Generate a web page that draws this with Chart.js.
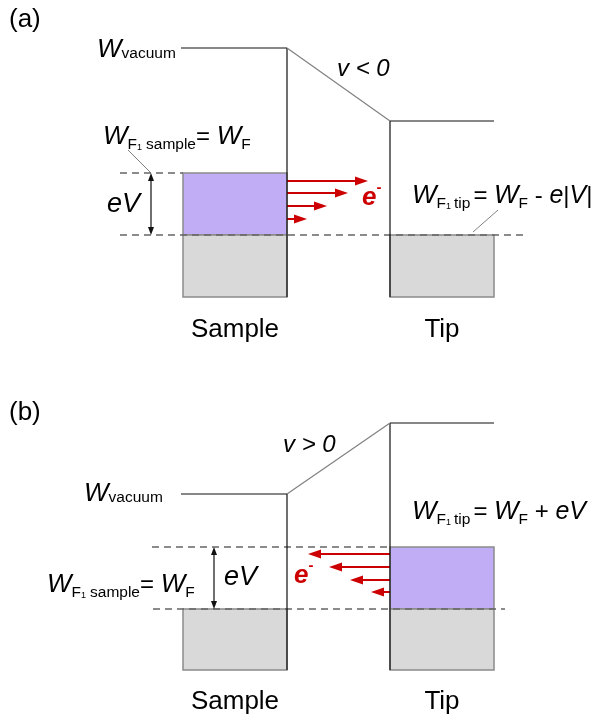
<!DOCTYPE html>
<html><head><meta charset="utf-8">
<script src="https://cdn.jsdelivr.net/npm/chart.js@4.4.0/dist/chart.umd.min.js"></script>
<style>html,body{margin:0;padding:0;background:#fff}#wrap{width:597px;height:715px}</style>
</head><body><div id="wrap"><canvas id="c" width="597" height="715"></canvas></div>
<script>
// ---------- data (drawing units: x = position, y = energy row, downward) ----------
const sampleX = [183, 287];            // sample electrode left / surface
const tipX = [390, 494];               // tip surface / right
// panel (a): V < 0
const vacA = [48, 121];                // vacuum level: sample, tip
const fermiA = [173, 235];             // Fermi level: sample, tip
const bottomA = 297;
const arrowYA = [181, 193, 206, 219];  // tunnelling electrons sample -> tip
const arrowEndA = [368, 348, 327, 307];
const dashA = [[120, 183, 173], [120, 525, 235]];  // xStart, xEnd, level
const eVA = [151, 173, 235];
const leaderA = [[128, 150, 151, 173], [498, 210, 473, 232]];
// panel (b): V > 0
const vacB = [494, 423];
const fermiB = [609, 547];
const bottomB = 670;
const arrowYB = [554, 567, 580, 592];  // tunnelling electrons tip -> sample
const arrowEndB = [308, 329, 350, 371];
const dashB = [[152, 390, 547], [153, 505, 609]];
const eVB = [214, 547, 609];

// ---------- build datasets ----------
const BLACK = '#111', GREY = '#808080', DASH = '#666', RED = '#cc0000';
const PURPLE = '#c0adf5', FILLG = '#d9d9d9';
const ds = [];
function seg(pts, color, width, dash) {
  ds.push({data: pts.map(p => ({x: p[0], y: p[1]})), showLine: true, pointRadius: 0,
    borderColor: color, borderWidth: width, borderDash: dash || [], fill: false, tension: 0});
}
function panel(vac, fermi, bottom, dashes, eV, arrowsY, arrowsEnd, dir) {
  seg([[sampleX[0] - 2, vac[0]], [sampleX[1], vac[0]]], BLACK, 1.2);
  seg([[sampleX[1], vac[0]], [tipX[0], vac[1]]], GREY, 1.2);
  seg([[tipX[0], vac[1]], [tipX[1], vac[1]]], BLACK, 1.2);
  seg([[sampleX[1], vac[0]], [sampleX[1], bottom]], BLACK, 1.2);
  seg([[tipX[0], vac[1]], [tipX[0], bottom]], BLACK, 1.2);
  dashes.forEach(d => seg([[d[0], d[2]], [d[1], d[2]]], DASH, 1.5, [7, 5]));
  seg([[eV[0], eV[1] + 3], [eV[0], eV[2] - 3]], BLACK, 1.2);
  arrowsY.forEach((y, i) => {
    const start = dir > 0 ? sampleX[1] : tipX[0];
    seg([[start, y], [arrowsEnd[i] - dir * 8, y]], RED, 2);
  });
}
panel(vacA, fermiA, bottomA, dashA, eVA, arrowYA, arrowEndA, 1);
panel(vacB, fermiB, bottomB, dashB, eVB, arrowYB, arrowEndB, -1);
leaderA.forEach(l => seg([[l[0], l[1]], [l[2], l[3]]], GREY, 1));

// ---------- plugin: boxes, arrowheads, text ----------
const F = '"Liberation Sans", Arial, sans-serif';
function head(ctx, x, y, dx, dy, len, half, color) {
  const px = -dy, py = dx;
  ctx.fillStyle = color;
  ctx.beginPath();
  ctx.moveTo(x, y);
  ctx.lineTo(x - dx * len + px * half, y - dy * len + py * half);
  ctx.lineTo(x - dx * len - px * half, y - dy * len - py * half);
  ctx.closePath(); ctx.fill();
}
function runs(ctx, x, y, list) {
  for (const r of list) {
    ctx.font = r[1]; ctx.fillStyle = r[3] || '#000';
    ctx.fillText(r[0], x, y + (r[2] || 0));
    x += ctx.measureText(r[0]).width + (r[4] || 0);
  }
}
const deco = {
  id: 'deco',
  beforeDatasetsDraw(chart) {
    const {ctx, scales: {x: sx, y: sy}} = chart;
    function box(x0, x1, y0, y1, fill) {
      const X0 = sx.getPixelForValue(x0), X1 = sx.getPixelForValue(x1);
      const Y0 = sy.getPixelForValue(y0), Y1 = sy.getPixelForValue(y1);
      ctx.fillStyle = fill; ctx.fillRect(X0, Y0, X1 - X0, Y1 - Y0);
      ctx.strokeStyle = '#8a8a8a'; ctx.lineWidth = 1.5;
      ctx.strokeRect(X0, Y0, X1 - X0, Y1 - Y0);
    }
    ctx.save();
    box(sampleX[0], sampleX[1], fermiA[0], fermiA[1], PURPLE);
    box(sampleX[0], sampleX[1], fermiA[1], bottomA, FILLG);
    box(tipX[0], tipX[1], fermiA[1], bottomA, FILLG);
    box(sampleX[0], sampleX[1], fermiB[0], bottomB, FILLG);
    box(tipX[0], tipX[1], fermiB[1], fermiB[0], PURPLE);
    box(tipX[0], tipX[1], fermiB[0], bottomB, FILLG);
    ctx.restore();
  },
  afterDatasetsDraw(chart) {
    const {ctx, scales: {x: sx, y: sy}} = chart;
    const px = v => sx.getPixelForValue(v), py = v => sy.getPixelForValue(v);
    ctx.save();
    arrowYA.forEach((y, i) => head(ctx, px(arrowEndA[i]), py(y), 1, 0, 13, 4.5, RED));
    arrowYB.forEach((y, i) => head(ctx, px(arrowEndB[i]), py(y), -1, 0, 13, 4.5, RED));
    [eVA, eVB].forEach(e => {
      head(ctx, px(e[0]), py(e[1]), 0, -1, 8, 3, BLACK);
      head(ctx, px(e[0]), py(e[2]), 0, 1, 8, 3, BLACK);
    });
    ctx.textBaseline = 'alphabetic'; ctx.textAlign = 'left';
    const Wf = 'italic 26px ' + F, S = '15.5px ' + F, SS = '9px ' + F, N = '24px ' + F;
    const I = 'italic 25px ' + F;
    runs(ctx, 9, 27, [['(a)', '26px ' + F]]);
    runs(ctx, 9, 420, [['(b)', '26px ' + F]]);
    runs(ctx, 97, 57, [['W', Wf, 0, '#000', 0], ['vacuum', S, 1]]);
    runs(ctx, 84, 501, [['W', Wf, 0, '#000', 0], ['vacuum', S, 1]]);
    runs(ctx, 337, 76, [['v < 0', 'italic 24px ' + F]]);
    runs(ctx, 283, 452, [['v > 0', 'italic 24px ' + F]]);
    const fs = [['W', Wf], ['F', S, 5], ['1', SS, 6, '#000', 4], ['sample', S, 5], ['= ', N], ['W', Wf], ['F', S, 5]];
    runs(ctx, 103, 144, fs);
    runs(ctx, 47, 592, fs);
    runs(ctx, 412, 203, [['W', Wf], ['F', S, 5], ['1', SS, 6, '#000', 3], ['tip', S, 5, '#000', 3], ['= ', N], ['W', Wf], ['F', S, 5], [' - ', N], ['e', I], ['|', N], ['V', I], ['|', N]]);
    runs(ctx, 412, 519, [['W', Wf], ['F', S, 5], ['1', SS, 6, '#000', 3], ['tip', S, 5, '#000', 3], ['= ', N], ['W', Wf], ['F', S, 5], [' + ', N], ['eV', I]]);
    runs(ctx, 107, 212, [['eV', 'italic 27px ' + F]]);
    runs(ctx, 224, 585, [['eV', 'italic 27px ' + F]]);
    const E = 'italic bold 26px ' + F;
    runs(ctx, 362, 205, [['e', E, 0, RED], ['-', 'bold 15px ' + F, -13, RED]]);
    runs(ctx, 294, 583, [['e', E, 0, RED], ['-', 'bold 15px ' + F, -13, RED]]);
    ctx.textAlign = 'center'; ctx.font = '26px ' + F; ctx.fillStyle = '#000';
    ctx.fillText('Sample', px((sampleX[0] + sampleX[1]) / 2), py(bottomA) + 40);
    ctx.fillText('Tip', px((tipX[0] + tipX[1]) / 2), py(bottomA) + 40);
    ctx.fillText('Sample', px((sampleX[0] + sampleX[1]) / 2), py(bottomB) + 39);
    ctx.fillText('Tip', px((tipX[0] + tipX[1]) / 2), py(bottomB) + 39);
    ctx.restore();
  }
};

new Chart(document.getElementById('c'), {
  type: 'scatter',
  data: {datasets: ds},
  options: {
    responsive: false, animation: false,
    layout: {padding: 0},
    plugins: {legend: {display: false}, tooltip: {enabled: false}},
    scales: {
      x: {type: 'linear', display: false, min: 0, max: 597},
      y: {type: 'linear', display: false, min: 0, max: 715, reverse: true}
    }
  },
  plugins: [deco]
});
</script></body></html>
